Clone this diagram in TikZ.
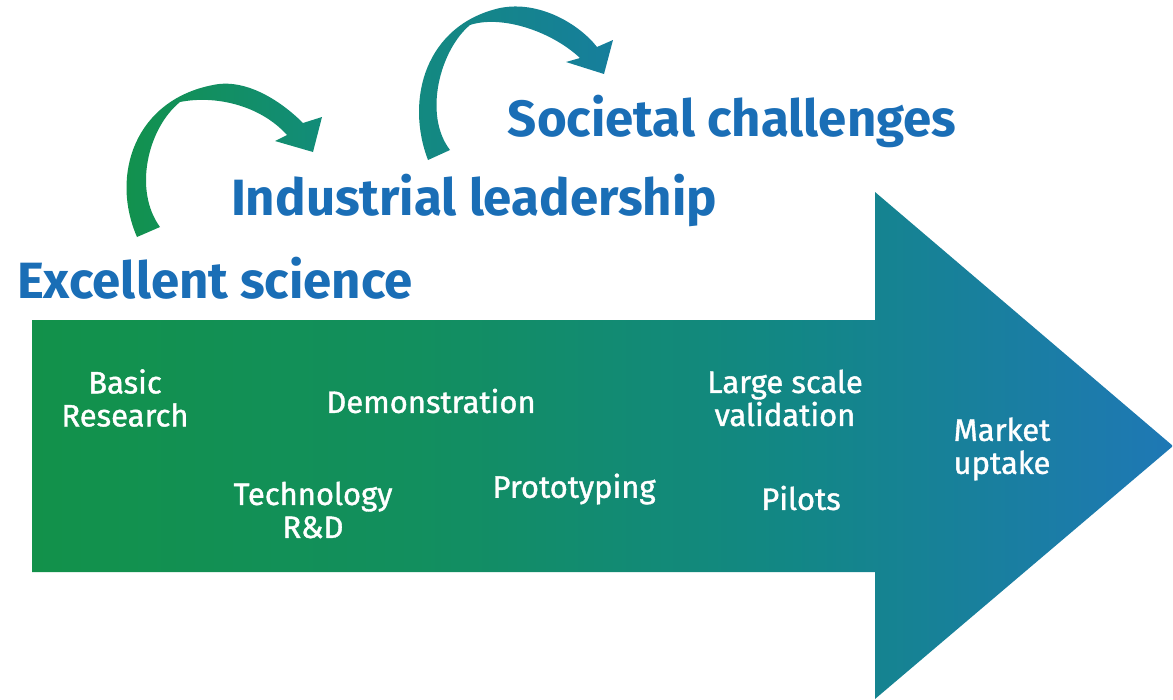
\documentclass[tikz,border=0pt]{standalone}
\usepackage{fontspec}
\setmainfont{Fira Sans}
\newfontfamily\labfont{Fira Sans}[FakeBold=1.2]
\usetikzlibrary{shadings}
\definecolor{titleblue}{HTML}{1A6EB6}
\definecolor{gA}{HTML}{12924A}
\definecolor{gB}{HTML}{128C79}
\definecolor{gC}{HTML}{138A7E}
\definecolor{gD}{HTML}{167E9C}
\pgfdeclarehorizontalshading{bigarrow}{100bp}{
  rgb(0bp)=(0.07,0.57,0.29);
  rgb(25bp)=(0.07,0.57,0.29);
  rgb(42bp)=(0.07,0.56,0.37);
  rgb(58bp)=(0.07,0.53,0.52);
  rgb(75bp)=(0.12,0.47,0.71);
  rgb(100bp)=(0.12,0.47,0.71)}
\tikzset{
  title/.style={text=titleblue, font=\fontsize{51}{55}\selectfont\bfseries, inner sep=0pt, anchor=center},
  lab/.style={text=white, font=\labfont\fontsize{31}{33}\selectfont, align=center, inner sep=0pt, anchor=center}
}
\begin{document}
\begin{tikzpicture}[x=1pt,y=-1pt]
\useasboundingbox (0,0) rectangle (1173,699);
% big arrow
\path[shading=bigarrow] (32,320) -- (875,320) -- (875,192) -- (1173,446) -- (875,699) -- (875,572) -- (32,572) -- cycle;
% curved arrow 1
\path[left color=gA, right color=gB]
  (137,237) .. controls (110,175) and (135,100) .. (213,85)
  .. controls (245,78) and (280,100) .. (303,123)
  -- (322,117) -- (313,152) -- (275,141) -- (287,135)
  .. controls (260,105) and (215,95) .. (180,102)
  .. controls (148,128) and (133,190) .. (160,227) -- cycle;
% curved arrow 2
\path[left color=gC, right color=gD]
  (428,160) .. controls (405,100) and (425,25) .. (500,8)
  .. controls (540,0) and (580,25) .. (597,47)
  -- (613,40) -- (604,74) -- (566,62) -- (580,58)
  .. controls (550,30) and (500,15) .. (470,25)
  .. controls (440,50) and (423,115) .. (450,150) -- cycle;
% titles
\node[title] (es) at (215,278) {Excellent science};
\node[title] (il) at (474,200) {Industrial leadership};
\node[title] (sc) at (732,121) {Societal challenges};
% labels
\node[lab] (br) at (125,398) {Basic\\Research};
\node[lab] (dem) at (431,401) {Demonstration};
\node[lab] (tech) at (313,510) {Technology\\R\&D};
\node[lab] (proto) at (574,489) {Prototyping};
\node[lab] (lsv) at (785,398) {Large scale\\validation};
\node[lab] (pil) at (801,498) {Pilots};
\node[lab] (mu) at (1002,449) {Market\\uptake};
\end{tikzpicture}
\end{document}
